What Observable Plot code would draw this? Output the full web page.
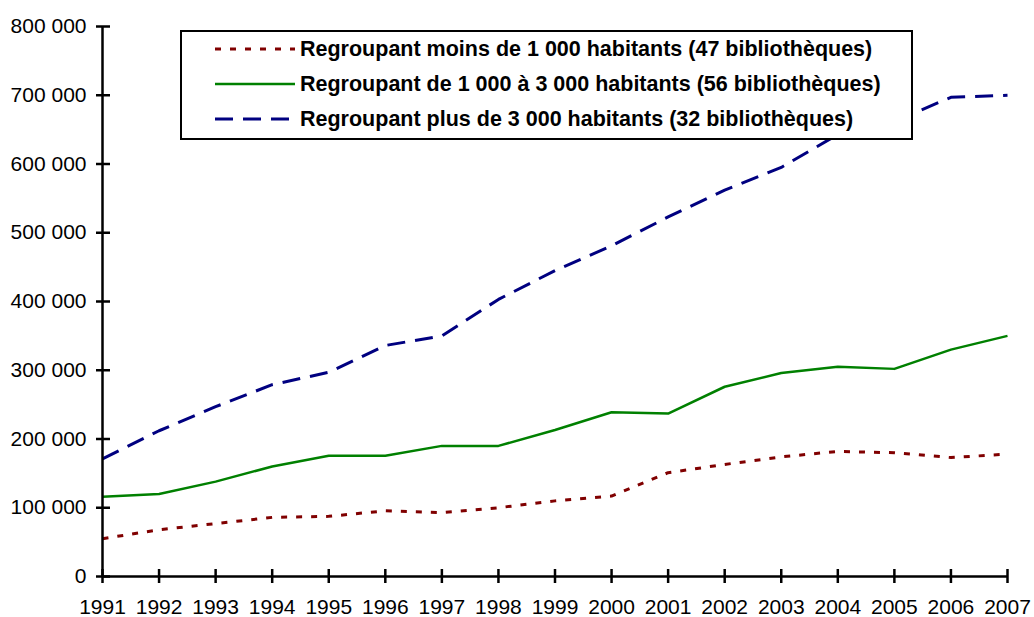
<!DOCTYPE html>
<html>
<head>
<meta charset="utf-8">
<script src="https://cdn.jsdelivr.net/npm/d3@7"></script>
<script src="https://cdn.jsdelivr.net/npm/@observablehq/plot@0.6"></script>
<style>
  html, body { margin: 0; padding: 0; background: #fff; }
  #wrap { position: relative; width: 1034px; height: 617px; font-family: "Liberation Sans", Arial, sans-serif; color: #000; }
  #legend { position: absolute; left: 180px; top: 30px; width: 729px; height: 106px; border: 2.5px solid #000; background: #fff; }
  .row { position: absolute; left: 0; height: 30px; display: flex; align-items: center; }
  .row svg { margin-left: 33px; margin-right: 5px; }
  .row span { font-weight: bold; font-size: 21.5px; white-space: nowrap; }
</style>
</head>
<body>
<div id="wrap">
  <div id="chart"></div>
  <div id="legend"></div>
</div>
<script>
const years = [1991,1992,1993,1994,1995,1996,1997,1998,1999,2000,2001,2002,2003,2004,2005,2006,2007];
const seriesNames = [
  "Regroupant moins de 1 000 habitants (47 bibliothèques)",
  "Regroupant de 1 000 à 3 000 habitants (56 bibliothèques)",
  "Regroupant plus de 3 000 habitants (32 bibliothèques)"
];
const moins1000 = [55000, 68000, 77000, 86000, 87500, 95500, 93000, 100000, 110000, 117000, 151000, 163000, 174000, 182000, 180000, 173000, 178000];
const de1000a3000 = [116000, 120000, 138000, 160000, 175500, 175500, 190000, 190000, 213000, 239000, 237000, 276000, 296000, 305000, 302000, 330000, 350000];
const plus3000 = [171000, 212000, 247000, 279000, 297000, 336000, 350000, 403000, 445000, 481000, 523000, 562000, 595000, 643000, 662000, 697000, 700000];
const yTicks = [0, 100000, 200000, 300000, 400000, 500000, 600000, 700000, 800000];
const colors = ["#800000", "#008000", "#000080"];
const dashes = ["6,9", null, "18,10"];
const widths = [3, 2.5, 3];

const allSeries = [moins1000, de1000a3000, plus3000];
const data = [];
allSeries.forEach((vals, s) => vals.forEach((v, i) => data.push({year: years[i], value: v, series: seriesNames[s]})));

const fmt = d => d3.format(",")(d).replace(/,/g, " ");

const lineMarks = seriesNames.map((name, s) =>
  Plot.line(data.filter(d => d.series === name), {
    x: "year", y: "value", stroke: colors[s], strokeWidth: widths[s],
    strokeDasharray: dashes[s], strokeLinecap: "butt", strokeLinejoin: "round"
  })
);

const chart = Plot.plot({
  width: 1034,
  height: 617,
  marginLeft: 102,
  marginRight: 27,
  marginTop: 26,
  marginBottom: 41,
  style: { fontFamily: "'Liberation Sans', Arial, sans-serif", fontSize: "21px", color: "#000", background: "#fff", overflow: "visible" },
  x: { domain: [1991, 2007], label: null },
  y: { domain: [0, 800000], label: null },
  marks: [
    Plot.axisX(years, { tickSize: 0, tickPadding: 23, tickFormat: d => String(d), label: null, fontSize: 21 }),
    Plot.axisY(yTicks, { tickSize: 0, tickPadding: 16, tickFormat: fmt, label: null, fontSize: 21 }),
    ...lineMarks,
    Plot.ruleY(yTicks, { y: d => d, x1: 1991, x2: 1991, insetLeft: -6, insetRight: -8, stroke: "#000", strokeWidth: 2.5 }),
    Plot.ruleX(years, { x: d => d, y1: 0, y2: 0, insetTop: -7, insetBottom: -7, stroke: "#000", strokeWidth: 2.5 }),
    Plot.ruleX([1991], { stroke: "#000", strokeWidth: 2.5 }),
    Plot.ruleY([0], { stroke: "#000", strokeWidth: 2.5 })
  ]
});
document.getElementById("chart").appendChild(chart);

const legend = document.getElementById("legend");
const rowTops = [2, 37, 72];
seriesNames.forEach((name, s) => {
  const row = document.createElement("div");
  row.className = "row";
  row.style.top = rowTops[s] + "px";
  const dash = dashes[s] ? ` stroke-dasharray="${dashes[s]}"` : "";
  row.innerHTML = `<svg width="80" height="10"><line x1="0" y1="5" x2="80" y2="5" stroke="${colors[s]}" stroke-width="${widths[s]}"${dash}/></svg><span>${name}</span>`;
  legend.appendChild(row);
});
</script>
</body>
</html>
